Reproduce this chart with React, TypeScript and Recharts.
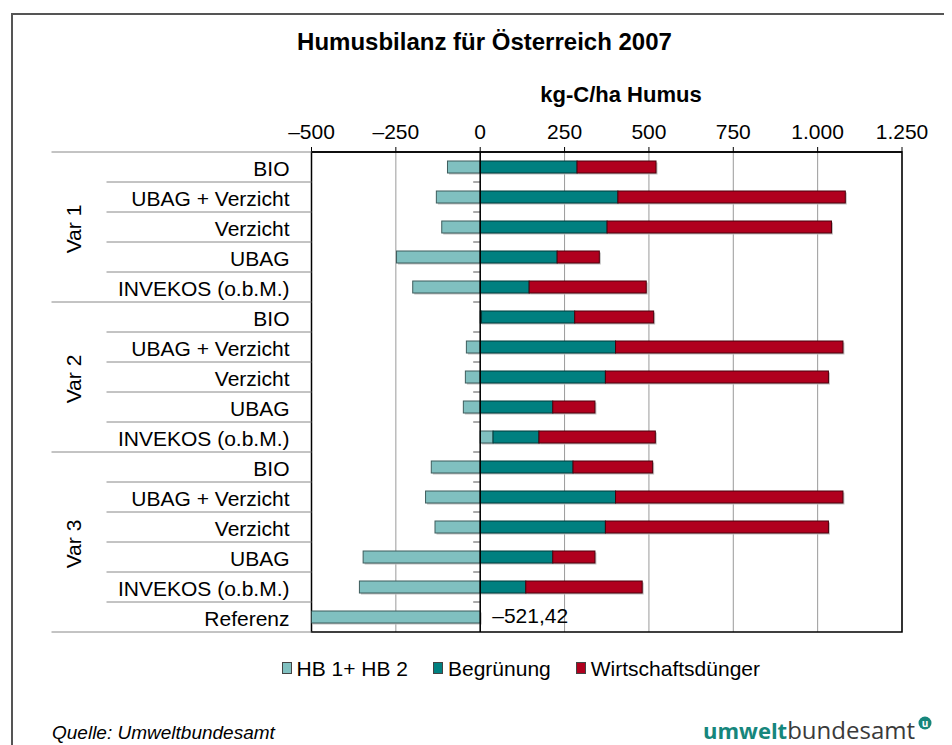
import React from "react";
import {
  BarChart,
  Bar,
  XAxis,
  YAxis,
  CartesianGrid,
  ReferenceLine,
  ReferenceArea,
  LabelList,
} from "recharts";

const categories = [
  "BIO",
  "UBAG + Verzicht",
  "Verzicht",
  "UBAG",
  "INVEKOS (o.b.M.)",
  "BIO",
  "UBAG + Verzicht",
  "Verzicht",
  "UBAG",
  "INVEKOS (o.b.M.)",
  "BIO",
  "UBAG + Verzicht",
  "Verzicht",
  "UBAG",
  "INVEKOS (o.b.M.)",
  "Referenz",
];

const groupLabels = ["Var 1", "Var 2", "Var 3"];
const groupSizes = [5, 5, 6];

// kg-C/ha Humus
const hb = [-97, -130, -114, -248, -200, 4, -41, -44, -50, 38, -145, -162, -134, -347, -358, -521.42];
const begruenung = [287, 408, 376, 228, 145, 276, 401, 371, 215, 136, 275, 401, 371, 215, 135, null];
const wirtschaftsduenger = [234, 674, 665, 125, 347, 234, 674, 661, 125, 345, 236, 674, 661, 125, 345, null];
const dataLabels: (string | null)[] = [
  null, null, null, null, null, null, null, null, null, null, null, null, null, null, null, "–521,42",
];

const xTicks = [-500, -250, 0, 250, 500, 750, 1000, 1250];

const seriesNames = ["HB 1+ HB 2", "Begrünung", "Wirtschaftsdünger"];
const seriesColors = ["#80c0c0", "#008080", "#b0001e"];
const seriesStrokes = ["#3d5c5c", "#003a3a", "#4a000c"];

const data = categories.map((name, i) => ({
  name,
  hb: hb[i],
  begr: begruenung[i],
  wirt: wirtschaftsduenger[i],
  label: dataLabels[i],
}));

const PLOT_H = 480;
const ROW_H = PLOT_H / categories.length;
const FONT = "'Liberation Sans', Arial, Helvetica, sans-serif";

const groupStarts = groupSizes.map((_, g) => groupSizes.slice(0, g).reduce((a, b) => a + b, 0));
const groupEnds = groupStarts.map((s, g) => s + groupSizes[g] - 1);

const fmtTick = (v: number) =>
  (v < 0 ? "–" : "") + String(Math.abs(v)).replace(/\B(?=(\d{3})+(?!\d))/g, ".");

function CategoryTick(props: any) {
  const { x, y, index, payload } = props;
  const top = y - ROW_H / 2;
  const bottom = y + ROW_H / 2;
  const g = groupStarts.indexOf(index);
  const isEnd = groupEnds.includes(index);
  const gCenter = g >= 0 ? top + (groupSizes[g] * ROW_H) / 2 + 2 : 0;
  return (
    <g>
      {index === 0 && <line x1={x - 260} x2={x} y1={top} y2={top} stroke="#888" />}
      <line x1={isEnd ? x - 260 : x - 205} x2={x} y1={bottom} y2={bottom} stroke="#888" />
      <text x={x - 22} y={y + 8.5} textAnchor="end" fontSize={21} fill="#000">
        {payload.value}
      </text>
      {g >= 0 && (
        <text
          x={x - 231}
          y={gCenter}
          textAnchor="middle"
          fontSize={21}
          fill="#000"
          transform={`rotate(-90 ${x - 231} ${gCenter})`}
        >
          {groupLabels[g]}
        </text>
      )}
    </g>
  );
}

function ZeroLine(props: any) {
  const { x1, y1, x2, y2 } = props;
  const top = Math.min(y1, y2);
  const rowH = Math.abs(y2 - y1) / categories.length;
  return (
    <g>
      {categories.slice(1).map((_, i) => (
        <line
          key={i}
          x1={x1 - 7}
          x2={x1}
          y1={top + rowH * (i + 1)}
          y2={top + rowH * (i + 1)}
          stroke="#555"
        />
      ))}
      <line x1={x1} x2={x2} y1={y1} y2={y2} stroke="#000" strokeWidth={1.5} />
    </g>
  );
}

function ShadowBar(props: any) {
  const { x, y, width, height, fill, stroke } = props;
  if (!width || !height) return null;
  const rx = width < 0 ? x + width : x;
  const w = Math.abs(width);
  return (
    <g>
      <rect x={rx + 1.5} y={y + 1.5} width={w} height={height} fill="#c2c2c2" />
      <rect x={rx} y={y} width={w} height={height} fill={fill} stroke={stroke} strokeWidth={1} />
    </g>
  );
}

function RefLabel(props: any) {
  const { x, y, width, height, value } = props;
  if (value == null) return null;
  const right = Math.max(x, x + width);
  return (
    <text x={right + 12} y={y + height / 2 + 5.5} fontSize={21} fill="#000">
      {value}
    </text>
  );
}

export default function App() {
  const keys = ["hb", "begr", "wirt"];
  return (
    <div
      style={{
        position: "relative",
        width: 944,
        height: 737,
        overflow: "hidden",
        fontFamily: FONT,
        background: "#fff",
      }}
    >
      <div
        style={{
          position: "absolute",
          left: 3,
          top: 4.5,
          width: 1200,
          height: 1200,
          border: "2px solid #555",
        }}
      />
      <BarChart
        width={944}
        height={737}
        data={data}
        layout="vertical"
        stackOffset="sign"
        margin={{ top: 114, right: 50, bottom: 113, left: 44.5 }}
        style={{ position: "absolute", left: 0, top: 0 }}
      >
        <CartesianGrid horizontal={false} stroke="#9a9a9a" />
        <XAxis
          type="number"
          orientation="top"
          domain={[-500, 1250]}
          ticks={xTicks}
          allowDataOverflow
          interval={0}
          height={30}
          tickSize={5}
          tickMargin={8}
          tickFormatter={fmtTick}
          tick={{ fill: "#000", fontSize: 21 }}
          tickLine={{ stroke: "#000" }}
          axisLine={{ stroke: "#000", strokeWidth: 1.5 }}
        />
        <YAxis
          type="category"
          dataKey="name"
          width={259}
          interval={0}
          tickSize={0}
          tickMargin={0}
          axisLine={false}
          tickLine={false}
          tick={<CategoryTick />}
        />
        {keys.map((k, i) => (
          <Bar
            key={k}
            dataKey={k}
            name={seriesNames[i]}
            stackId="s"
            barSize={12}
            fill={seriesColors[i]}
            stroke={seriesStrokes[i]}
            shape={ShadowBar}
            isAnimationActive={false}
          >
            {k === "hb" && <LabelList dataKey="label" content={RefLabel} />}
          </Bar>
        ))}
        <ReferenceLine x={0} shape={ZeroLine} />
        <ReferenceArea x1={-500} x2={1250} fill="none" stroke="#000" strokeWidth={1.5} />
      </BarChart>

      <svg
        width={944}
        height={737}
        style={{ position: "absolute", left: 0, top: 0, pointerEvents: "none" }}
      >
        <text x={476.5} y={42} textAnchor="middle" fontSize={24} fontWeight={700} fill="#000">
          Humusbilanz für Österreich 2007
        </text>
        <text x={613} y={94} textAnchor="middle" fontSize={22} fontWeight={700} fill="#000">
          kg-C/ha Humus
        </text>
        <text x={44} y={731} fontSize={19} fontStyle="italic" fill="#000">
          Quelle: Umweltbundesamt
        </text>
        <text x={695} y={730.5} fontSize={24} fontFamily="'Open Sans', sans-serif">
          <tspan fontWeight={700} fill="#16867c" fontSize={22}>
            umwelt
          </tspan>
          <tspan fill="#3a3a3a">bundesamt</tspan>
        </text>
        <circle cx={917} cy={715} r={6.5} fill="#16867c" />
        <text
          x={917}
          y={718.5}
          textAnchor="middle"
          fontSize={10}
          fontWeight={700}
          fill="#fff"
          fontFamily="'Open Sans', sans-serif"
        >
          u
        </text>
      </svg>

      <div
        style={{
          position: "absolute",
          left: 273.5,
          top: 649.5,
          display: "flex",
          alignItems: "center",
          fontSize: 21,
          lineHeight: "21px",
          whiteSpace: "nowrap",
        }}
      >
        {seriesNames.map((n, i) => (
          <div key={n} style={{ display: "flex", alignItems: "center", marginRight: 25 }}>
            <span
              style={{
                display: "inline-block",
                width: 8,
                height: 10,
                background: seriesColors[i],
                border: "1px solid #444",
                marginRight: 5,
              }}
            />
            <span>{n}</span>
          </div>
        ))}
      </div>
    </div>
  );
}
